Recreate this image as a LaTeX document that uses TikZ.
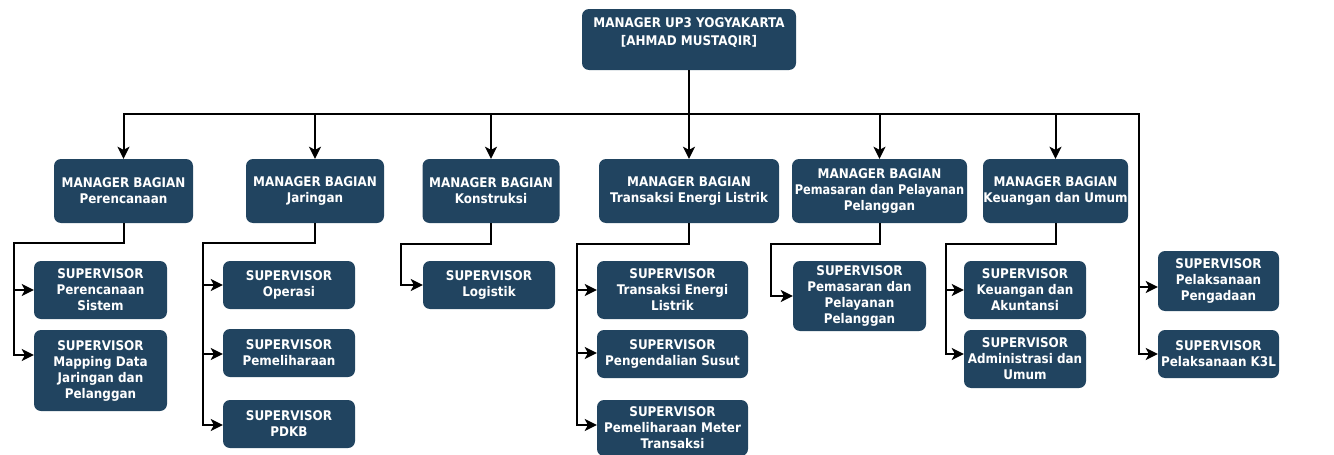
\documentclass[tikz,border=0pt]{standalone}
\usepackage{fontspec}
\usepackage{graphicx}
\setmainfont{DejaVu Sans}[FakeStretch=0.9]
\usetikzlibrary{arrows.meta}
\definecolor{boxblue}{RGB}{33,68,96}
\tikzset{
  orgbox/.style={draw=none, fill=boxblue, text=white, rounded corners=7pt, align=center,
    inner sep=0pt, font=\bfseries\fontsize{13.3}{16}\selectfont},
  conn/.style={line width=2pt, draw=black},
  arr/.style={conn, -{Stealth[length=12pt,width=12pt,inset=3pt]}}
}
\newcommand{\bx}[6]{\node[orgbox, minimum width=#4pt, minimum height=#5pt] (#1) at (#2,#3) {#6};}
\begin{document}
\begin{tikzpicture}[x=1pt,y=-1pt]
\useasboundingbox (0,0) rectangle (1334,455);
% top
\node[orgbox, minimum width=214pt, minimum height=61pt] (top) at (689,39.5) {};
\node[text=white, font=\bfseries\fontsize{13.3}{18}\selectfont, align=center, inner sep=0pt] (toptext) at (689,33) {MANAGER UP3 YOGYAKARTA\\{}[AHMAD MUSTAQIR]};
% managers
\bx{m1}{123.5}{191}{139}{64}{MANAGER BAGIAN\\Perencanaan}
\bx{m2}{315}{191}{138}{64}{MANAGER BAGIAN\\Jaringan}
\bx{m3}{491}{191}{137}{64}{MANAGER BAGIAN\\Konstruksi}
\bx{m4}{689}{191}{180}{64}{MANAGER BAGIAN\\Transaksi Energi Listrik}
\bx{m5}{879.5}{191}{175}{64}{MANAGER BAGIAN\\\scalebox{0.95}[1]{Pemasaran dan Pelayanan}\\Pelanggan}
\bx{m6}{1055.5}{191}{145}{64}{MANAGER BAGIAN\\Keuangan dan Umum}
% supervisors
\bx{s1a}{100.5}{290}{133}{58}{SUPERVISOR\\Perencanaan\\Sistem}
\bx{s1b}{100.5}{370.5}{133}{81}{SUPERVISOR\\Mapping Data\\Jaringan dan\\Pelanggan}
\bx{s2a}{289}{285}{132}{48}{SUPERVISOR\\Operasi}
\bx{s2b}{289}{353}{132}{48}{SUPERVISOR\\Pemeliharaan}
\bx{s2c}{289}{424}{132}{48}{SUPERVISOR\\PDKB}
\bx{s3}{489}{285}{132}{48}{SUPERVISOR\\Logistik}
\bx{s4a}{672.5}{290}{151}{58}{SUPERVISOR\\Transaksi Energi\\Listrik}
\bx{s4b}{672.5}{354}{151}{48}{SUPERVISOR\\Pengendalian Susut}
\bx{s4c}{672.5}{428}{151}{56}{SUPERVISOR\\Pemeliharaan Meter\\Transaksi}
\bx{s5}{859.5}{296}{133}{70}{SUPERVISOR\\Pemasaran dan\\Pelayanan\\Pelanggan}
\bx{s6a}{1025}{290}{122}{58}{SUPERVISOR\\Keuangan dan\\Akuntansi}
\bx{s6b}{1025}{359}{122}{58}{SUPERVISOR\\Administrasi dan\\Umum}
\bx{s7a}{1218.5}{281}{121}{60}{SUPERVISOR\\Pelaksanaan\\Pengadaan}
\bx{s7b}{1218.5}{354}{121}{48}{SUPERVISOR\\Pelaksanaan K3L}
% bus
\coordinate (busL) at (123.5,114);
\coordinate (busR) at (1139,114);
\draw[conn] (top.south) -- (top.south |- busL);
\draw[conn, line cap=rect] (busL) -- (busR);
\draw[arr] (top.south) -- (m4.north);
\draw[arr] (busL) -- (m1.north);
\draw[arr] (m2.north |- busL) -- (m2.north);
\draw[arr] (m3.north |- busL) -- (m3.north);
\draw[arr] (m5.north |- busL) -- (m5.north);
\draw[arr] (m6.north |- busL) -- (m6.north);
\draw[arr] (busR) |- (s7b.west);
\draw[arr] ([yshift=-6pt]s7a.west -| busR) -- ([yshift=-6pt]s7a.west);
% column brackets
\coordinate (k1) at (14,243);
\coordinate (k2) at (203,243);
\coordinate (k3) at (401,244);
\coordinate (k4) at (577,244);
\coordinate (k5) at (771,244);
\coordinate (k6) at (946,244);
\draw[arr] (m1.south) |- (k1) |- ([yshift=15.5pt]s1b.west);
\draw[arr] (s1a.west -| k1) -- (s1a.west);
\draw[arr] (m2.south) |- (k2) |- ([yshift=-1pt]s2c.west);
\draw[arr] (s2a.west -| k2) -- (s2a.west);
\draw[arr] ([yshift=-1pt]s2b.west -| k2) -- ([yshift=-1pt]s2b.west);
\draw[arr] (m3.south) |- (k3) |- (s3.west);
\draw[arr] (m4.south) |- (k4) |- ([yshift=3pt]s4c.west);
\draw[arr] (s4a.west -| k4) -- (s4a.west);
\draw[arr] ([yshift=1pt]s4b.west -| k4) -- ([yshift=1pt]s4b.west);
\draw[arr] (m5.south) |- (k5) |- (s5.west);
\draw[arr] (m6.south) |- (k6) |- ([yshift=5pt]s6b.west);
\draw[arr] (s6a.west -| k6) -- (s6a.west);
\end{tikzpicture}
\end{document}
